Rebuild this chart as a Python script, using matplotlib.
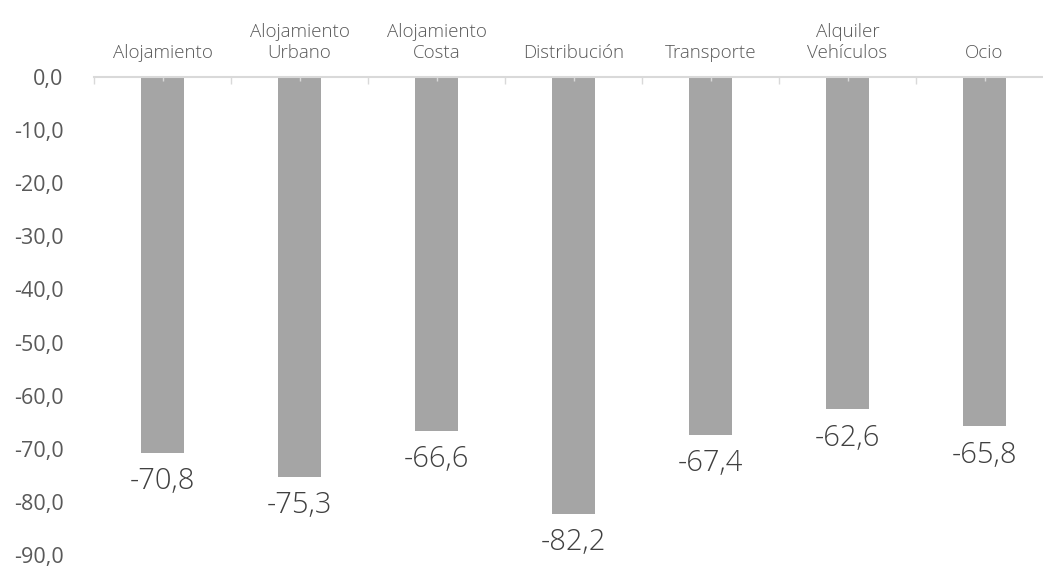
import matplotlib.pyplot as plt
import numpy as np

categorias = ['Alojamiento', 'Alojamiento\nUrbano', 'Alojamiento\nCosta', 'Distribución',
              'Transporte', 'Alquiler\nVehículos', 'Ocio']
valores = [-70.8, -75.3, -66.6, -82.2, -67.4, -62.6, -65.8]
yticks = [0, -10, -20, -30, -40, -50, -60, -70, -80, -90]

plt.rcParams['font.family'] = ['Open Sans', 'DejaVu Sans']

W, H = 1043, 571
fig = plt.figure(figsize=(W / 100, H / 100), dpi=100)
# eje un poco mas ancho que la figura (recortado a la derecha, como en el original)
ax = fig.add_axes([94 / W, 16 / H, 959 / W, 478 / H])

x = np.arange(len(categorias))
ax.bar(x, valores, width=0.31, color='#A5A5A5', zorder=2)

for xi, v in zip(x, valores):
    ax.annotate(f'{v:.1f}'.replace('.', ','), (xi, v), xytext=(0, -10),
                textcoords='offset points', ha='center', va='top',
                fontsize=21, color='#404040', fontweight='light')

ax.set_xlim(-0.5, len(categorias) - 0.5)
ax.set_ylim(-90, 0)

ax.xaxis.tick_top()
ax.set_xticks(x)
ax.set_xticklabels(categorias, fontsize=13.5, color='#595959', fontweight='light',
                   linespacing=1.2)
ax.set_xticks(np.arange(len(categorias) + 1) - 0.5, minor=True)
ax.tick_params(axis='x', which='major', direction='in', length=3, color='#D9D9D9',
               pad=11, width=1)
ax.tick_params(axis='x', which='minor', direction='in', length=5, color='#D9D9D9', width=1)
ax.xaxis.set_zorder(3)

ax.set_yticks(yticks)
ax.set_yticklabels([f'{t:.1f}'.replace('.', ',') for t in yticks], fontsize=15.5,
                   color='#595959')
ax.tick_params(axis='y', length=0, pad=22)

for s in ['left', 'right', 'bottom']:
    ax.spines[s].set_visible(False)
ax.spines['top'].set_color('#D9D9D9')
ax.spines['top'].set_linewidth(1.5)
ax.spines['top'].set_zorder(3)

fig.savefig('out.png', dpi=100)
